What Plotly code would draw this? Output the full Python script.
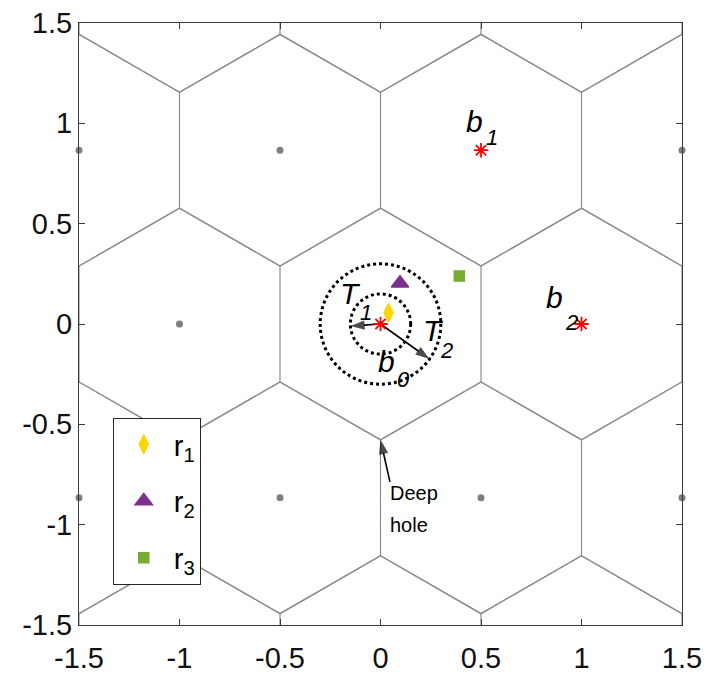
import numpy as np
import plotly.graph_objects as go

# Lattice generators (hexagonal A2 lattice)
B1 = (0.5, 0.866)
B2 = (1.0, 0.0)
B0 = (0.0, 0.0)

# Other lattice points shown as grey dots
GRAY_X = [-1.5, -0.5, 1.5, -1.0, -1.5, -0.5, 0.5, 1.5]
GRAY_Y = [0.866, 0.866, 0.866, 0.0, -0.866, -0.866, -0.866, -0.866]

# Received points r1, r2, r3
R_NAMES = ["r<sub>1</sub>", "r<sub>2</sub>", "r<sub>3</sub>"]
R_X = [0.04, 0.097, 0.392]
R_Y = [0.056, 0.203, 0.239]
R_SYMBOLS = ["diamond-tall", "triangle-up", "square"]
R_COLORS = ["#FFD500", "#7E2F8E", "#77AC30"]
R_SIZES = [13, 15, 10]

# Radii of the two thresholds around b0
T1_R = 0.15
T2_R = 0.30
# Arrow tips for T1 and T2
T1_TIP = (-0.15, -0.01)
T2_TIP = (0.244, -0.175)

DEEP_HOLE = (0.0, -0.577)
DEEP_HOLE_ARROW_TAIL = (0.047, -0.787)

TICK_VALS = [-1.5, -1.0, -0.5, 0.0, 0.5, 1.0, 1.5]
TICK_TEXT = ["-1.5", "-1", "-0.5", "0", "0.5", "1", "1.5"]

FONT = "Liberation Sans, Arial, sans-serif"
EDGE = "#8c8c8c"
AXIS = "#3a3a3a"

# ---- Voronoi cells of the lattice: regular hexagons, pointy top ----
rv = 1 / np.sqrt(3)
angles = np.deg2rad(30 + 60 * np.arange(6))
edges = set()
for i in range(-5, 6):
    for j in range(-5, 6):
        cx = i * B2[0] + j * B1[0]
        cy = i * B2[1] + j * B1[1]
        if abs(cx) > 2.6 or abs(cy) > 2.6:
            continue
        vx = cx + rv * np.cos(angles)
        vy = cy + rv * np.sin(angles)
        for k in range(6):
            a = (round(vx[k], 4), round(vy[k], 4))
            b = (round(vx[(k + 1) % 6], 4), round(vy[(k + 1) % 6], 4))
            edges.add(tuple(sorted([a, b])))

ex, ey = [], []
for a, b in sorted(edges):
    ex += [a[0], b[0], None]
    ey += [a[1], b[1], None]

fig = go.Figure()
fig.add_trace(go.Scatter(x=ex, y=ey, mode="lines",
                         line=dict(color=EDGE, width=1.2),
                         showlegend=False, hoverinfo="skip"))

fig.add_trace(go.Scatter(x=GRAY_X, y=GRAY_Y, mode="markers",
                         marker=dict(color="#7f7f7f", size=7),
                         showlegend=False, cliponaxis=False))

# Dotted threshold circles
for r in (T1_R, T2_R):
    fig.add_shape(type="circle", xref="x", yref="y",
                  x0=B0[0] - r, x1=B0[0] + r, y0=B0[1] - r, y1=B0[1] + r,
                  line=dict(color="black", width=3, dash="dot"))

# Arrows: line with an arrow-head marker at the tip
arrows = [(B0, T1_TIP), (B0, T2_TIP), (DEEP_HOLE_ARROW_TAIL, DEEP_HOLE)]
for tail, head in arrows:
    fig.add_trace(go.Scatter(x=[tail[0], head[0]], y=[tail[1], head[1]],
                             mode="lines+markers", showlegend=False,
                             hoverinfo="skip",
                             line=dict(color="black", width=1.6),
                             marker=dict(symbol="arrow", size=[0, 15],
                                         angleref="previous", color="black",
                                         line=dict(width=0))))

for k, (name, x, y, sym, col, sz) in enumerate(
        zip(R_NAMES, R_X, R_Y, R_SYMBOLS, R_COLORS, R_SIZES)):
    fig.add_trace(go.Scatter(x=[x], y=[y], mode="markers", name=name,
                             legendgroup=f"g{k}",
                             marker=dict(symbol=sym, color=col, size=sz,
                                         line=dict(width=1.5, color=col))))

# Lattice points b0, b1, b2
fig.add_trace(go.Scatter(x=[B0[0], B1[0], B2[0]], y=[B0[1], B1[1], B2[1]],
                         mode="markers", showlegend=False,
                         marker=dict(symbol="asterisk-open", size=12,
                                     color="#ff0000",
                                     line=dict(color="#ff0000", width=1.8))))

# Italic labels with separate subscripts
labels = [
    ("b", 0.470, 1.008, 30), ("1", 0.557, 0.929, 22),
    ("b", 0.866, 0.130, 30), ("2", 0.948, 0.007, 22),
    ("T", -0.147, 0.154, 30), ("1", -0.072, 0.057, 22),
    ("T", 0.266, -0.030, 30), ("2", 0.326, -0.133, 22),
    ("b", 0.030, -0.189, 30), ("0", 0.114, -0.277, 22),
]
for txt, x, y, s in labels:
    fig.add_annotation(x=x, y=y, xref="x", yref="y", text=f"<i>{txt}</i>",
                       showarrow=False, xanchor="center", yanchor="middle",
                       font=dict(family=FONT, size=s, color="black"))

for txt, y in (("Deep", -0.842), ("hole", -1.0)):
    fig.add_annotation(x=0.037, y=y, xref="x", yref="y", text=txt,
                       showarrow=False, xanchor="left", yanchor="middle",
                       font=dict(family=FONT, size=20, color="black"))

axis_common = dict(range=[-1.5, 1.5], tickvals=TICK_VALS, ticktext=TICK_TEXT,
                   ticks="inside", ticklen=6, tickwidth=1, tickcolor=AXIS,
                   showline=True, linecolor=AXIS, linewidth=1, mirror="ticks",
                   showgrid=False, zeroline=False, automargin=False,
                   tickfont=dict(family=FONT, size=29, color="#111111"))

fig.update_layout(
    width=707, height=675,
    margin=dict(l=79, r=25, t=23, b=50),
    plot_bgcolor="white", paper_bgcolor="white",
    xaxis=dict(axis_common, ticklabelstandoff=7),
    yaxis=axis_common,
    showlegend=True,
    legend=dict(x=0.056, y=0.344, xanchor="left", yanchor="top",
                bgcolor="white", bordercolor="#262626", borderwidth=1,
                tracegroupgap=16, itemwidth=50,
                font=dict(family=FONT, size=29, color="black")),
)

fig.write_html("out.html")
